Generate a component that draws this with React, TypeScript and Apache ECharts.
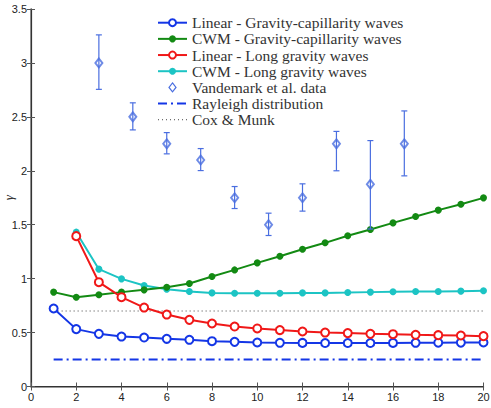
import React, { useEffect, useRef } from "react";
import * as echarts from "echarts";

const xsFull = [1, 2, 3, 4, 5, 6, 7, 8, 9, 10, 11, 12, 13, 14, 15, 16, 17, 18, 19, 20];
const xsLong = [2, 3, 4, 5, 6, 7, 8, 9, 10, 11, 12, 13, 14, 15, 16, 17, 18, 19, 20];

const linearGC = [0.723, 0.532, 0.488, 0.463, 0.454, 0.442, 0.433, 0.42, 0.414, 0.408, 0.405, 0.404, 0.403, 0.403, 0.403, 0.404, 0.405, 0.406, 0.407, 0.408];
const cwmGC = [0.875, 0.828, 0.85, 0.875, 0.896, 0.921, 0.955, 1.02, 1.081, 1.146, 1.208, 1.273, 1.332, 1.397, 1.455, 1.517, 1.576, 1.635, 1.69, 1.749];
const linearLG = [1.394, 0.967, 0.828, 0.732, 0.667, 0.618, 0.584, 0.556, 0.538, 0.523, 0.51, 0.5, 0.495, 0.488, 0.485, 0.479, 0.476, 0.473, 0.467];
const cwmLG = [1.431, 1.088, 0.998, 0.936, 0.902, 0.881, 0.868, 0.865, 0.865, 0.865, 0.868, 0.868, 0.871, 0.875, 0.878, 0.88, 0.88, 0.884, 0.887];

const vandX = [3, 4.5, 6, 7.5, 9, 10.5, 12, 13.5, 15, 16.5];
const vandY = [3.0, 2.5, 2.25, 2.1, 1.75, 1.5, 1.75, 2.25, 1.875, 2.25];
const vandLo = [2.755, 2.379, 2.157, 2.002, 1.65, 1.4, 1.626, 2.0, 1.46, 1.953];
const vandHi = [3.26, 2.63, 2.354, 2.206, 1.854, 1.607, 1.879, 2.365, 2.28, 2.555];

const rayleighX = [1, 20];
const rayleighY = [0.25, 0.25];
const coxX = [1, 20];
const coxY = [0.7, 0.7];

const xTicks = { min: 0, max: 20, interval: 2 };
const yTicks = { min: 0, max: 3.5, interval: 0.5 };

const names = [
  "Linear - Gravity-capillarity waves",
  "CWM - Gravity-capillarity waves",
  "Linear - Long gravity waves",
  "CWM - Long gravity waves",
  "Vandemark et al. data",
  "Rayleigh distribution",
  "Cox & Munk",
];

const pair = (xs: number[], ys: number[]) => xs.map((x, i) => [x, ys[i]]);

const BLUE = "#1436e6";
const GREEN = "#138a13";
const RED = "#f01818";
const CYAN = "#1cc4c4";
const VBLUE = "#4a6ee0";
const GREY = "#444";

type Kind = { color: string; line: number[] | null | "solid"; marker: "empty" | "filled" | "diamond" | null };
const legendKinds: Kind[] = [
  { color: BLUE, line: "solid", marker: "empty" },
  { color: GREEN, line: "solid", marker: "filled" },
  { color: RED, line: "solid", marker: "empty" },
  { color: CYAN, line: "solid", marker: "filled" },
  { color: VBLUE, line: null, marker: "diamond" },
  { color: BLUE, line: [9, 4, 2, 4], marker: null },
  { color: GREY, line: [1, 3], marker: null },
];

function buildLegend() {
  const x0 = 158, x1 = 187, tx = 192, y0 = 22.7, dy = 16.17;
  const cx = (x0 + x1) / 2;
  const children: any[] = [];
  names.forEach((n, i) => {
    const k = legendKinds[i];
    const y = y0 + i * dy;
    if (k.line) {
      children.push({
        type: "line",
        shape: { x1: x0, y1: y, x2: x1, y2: y },
        style: {
          stroke: k.color,
          lineWidth: k.line === "solid" ? 2 : i === 6 ? 1 : 2,
          lineDash: k.line === "solid" ? null : k.line,
        },
      });
    }
    if (k.marker === "empty") {
      children.push({ type: "circle", shape: { cx, cy: y, r: 3.5 }, style: { fill: "#fff", stroke: k.color, lineWidth: 2 } });
    } else if (k.marker === "filled") {
      children.push({ type: "circle", shape: { cx, cy: y, r: 3.5 }, style: { fill: k.color } });
    } else if (k.marker === "diamond") {
      children.push({
        type: "polygon",
        shape: { points: [[cx, y - 4.5], [cx + 3.5, y], [cx, y + 4.5], [cx - 3.5, y]] },
        style: { fill: "#fff", stroke: k.color, lineWidth: 1.2 },
      });
    }
    children.push({
      type: "text",
      x: tx,
      y,
      style: { text: n, fontFamily: "Liberation Serif", fontSize: 15.5, fill: "#333", verticalAlign: "middle", align: "left" },
    });
  });
  return [{ type: "group", z: 100, children }];
}

export default function App() {
  const ref = useRef<HTMLDivElement>(null);
  useEffect(() => {
    if (!ref.current) return;
    const chart = echarts.init(ref.current, undefined, { renderer: "svg" });
    const axisLabel = { fontFamily: "Liberation Sans", fontSize: 11, color: "#222" };
    const option: any = {
      animation: false,
      backgroundColor: "#fff",
      grid: { left: 31, top: 9, right: 7.5, bottom: 21.5, containLabel: false, outerBoundsMode: "none" },
      graphic: buildLegend(),
      xAxis: [
        {
          type: "value",
          ...xTicks,
          position: "bottom",
          name: "{u|U}{s|10}",
          nameLocation: "middle",
          nameGap: 20,
          nameTextStyle: {
            rich: {
              u: { fontFamily: "Liberation Serif", fontStyle: "italic", fontSize: 16, color: "#222" },
              s: { fontFamily: "Liberation Serif", fontStyle: "italic", fontSize: 10, color: "#222", verticalAlign: "bottom", padding: [7, 0, 0, 0] },
            },
          },
          axisLine: { show: true, lineStyle: { color: "#777", width: 1.5 } },
          axisTick: { show: true, inside: true, length: 4, lineStyle: { color: "#555" } },
          axisLabel: { ...axisLabel, margin: 5 },
          splitLine: { show: false },
        },
        {
          type: "value",
          ...xTicks,
          position: "top",
          axisLine: { show: true, lineStyle: { color: "#333", width: 1 } },
          axisTick: { show: true, inside: true, length: 4, lineStyle: { color: "#555" } },
          axisLabel: { show: false },
          splitLine: { show: false },
        },
      ],
      yAxis: [
        {
          type: "value",
          ...yTicks,
          position: "left",
          name: "γ",
          nameLocation: "middle",
          nameGap: 16,
          nameMoveOverlap: false,
          nameRotate: 90,
          nameTextStyle: { fontFamily: "Liberation Serif", fontStyle: "italic", fontSize: 13, color: "#333" },
          axisLine: { show: true, lineStyle: { color: "#777", width: 1.5 } },
          axisTick: { show: true, inside: true, length: 4, lineStyle: { color: "#555" } },
          axisLabel: { ...axisLabel, margin: 4 },
          splitLine: { show: false },
        },
        {
          type: "value",
          ...yTicks,
          position: "right",
          axisLine: { show: true, lineStyle: { color: "#333", width: 1.2 } },
          axisTick: { show: true, inside: true, length: 4, lineStyle: { color: "#555" } },
          axisLabel: { show: false },
          splitLine: { show: false },
        },
      ],
      series: [
        {
          name: names[0],
          type: "line",
          data: pair(xsFull, linearGC),
          symbol: "emptyCircle",
          symbolSize: 8,
          lineStyle: { color: BLUE, width: 2 },
          itemStyle: { color: BLUE, borderWidth: 2 },
          z: 5,
        },
        {
          name: names[1],
          type: "line",
          data: pair(xsFull, cwmGC),
          symbol: "circle",
          symbolSize: 7,
          lineStyle: { color: GREEN, width: 2 },
          itemStyle: { color: GREEN },
          z: 4,
        },
        {
          name: names[2],
          type: "line",
          data: pair(xsLong, linearLG),
          symbol: "emptyCircle",
          symbolSize: 8,
          lineStyle: { color: RED, width: 2 },
          itemStyle: { color: RED, borderWidth: 2 },
          z: 5,
        },
        {
          name: names[3],
          type: "line",
          data: pair(xsLong, cwmLG),
          symbol: "circle",
          symbolSize: 7,
          lineStyle: { color: CYAN, width: 2 },
          itemStyle: { color: CYAN },
          z: 3,
        },
        {
          name: names[4],
          type: "scatter",
          data: pair(vandX, vandY),
          symbol: "emptyDiamond",
          symbolSize: [7, 9],
          itemStyle: { color: VBLUE, borderWidth: 1.2 },
          z: 6,
        },
        {
          name: "errorbars",
          type: "custom",
          data: vandX.map((x, i) => [x, vandLo[i], vandHi[i]]),
          z: 7,
          renderItem: (params: any, api: any) => {
            const x = api.value(0);
            const lo = api.coord([x, api.value(1)]);
            const hi = api.coord([x, api.value(2)]);
            const w = 3;
            const style = { stroke: VBLUE, lineWidth: 1.2 };
            return {
              type: "group",
              children: [
                { type: "line", shape: { x1: lo[0], y1: lo[1], x2: hi[0], y2: hi[1] }, style },
                { type: "line", shape: { x1: lo[0] - w, y1: lo[1], x2: lo[0] + w, y2: lo[1] }, style },
                { type: "line", shape: { x1: hi[0] - w, y1: hi[1], x2: hi[0] + w, y2: hi[1] }, style },
              ],
            };
          },
        },
        {
          name: names[5],
          type: "line",
          data: pair(rayleighX, rayleighY),
          symbol: "none",
          lineStyle: { color: BLUE, width: 2, type: [9, 4, 2, 4] },
          z: 2,
        },
        {
          name: names[6],
          type: "line",
          data: pair(coxX, coxY),
          symbol: "none",
          lineStyle: { color: GREY, width: 1, type: [1, 3] },
          z: 2,
        },
      ],
    };
    chart.setOption(option);
    return () => chart.dispose();
  }, []);
  return <div ref={ref} style={{ position: "fixed", left: 0, top: 0, width: 491, height: 408 }} />;
}
